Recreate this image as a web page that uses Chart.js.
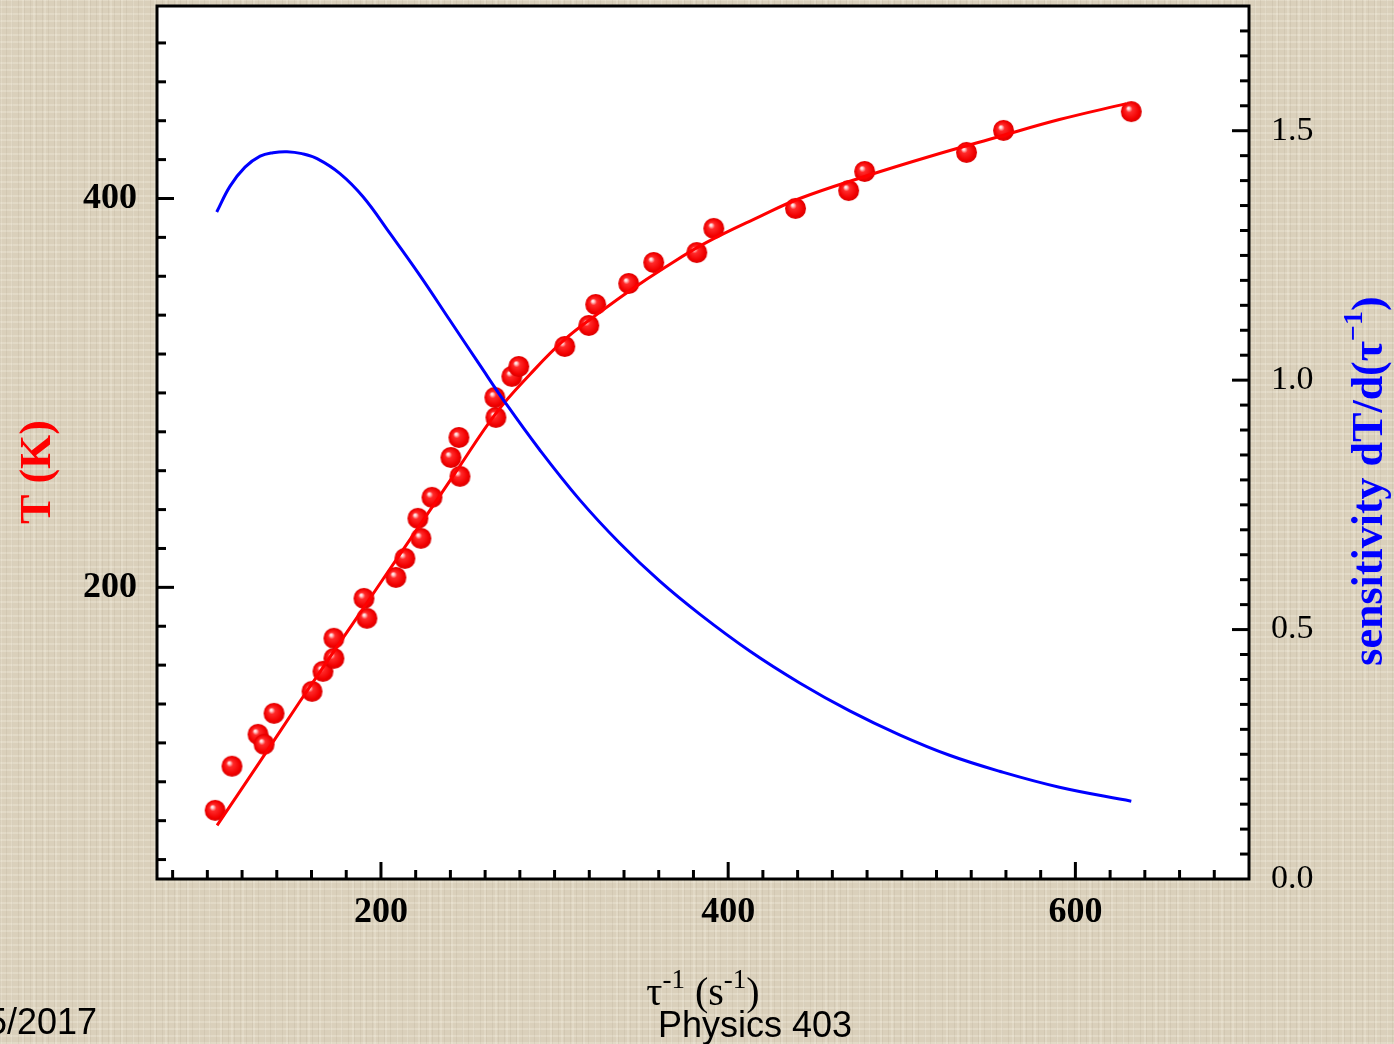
<!DOCTYPE html>
<html>
<head>
<meta charset="utf-8">
<script src="https://cdn.jsdelivr.net/npm/chart.js@4.4.1/dist/chart.umd.min.js"></script>
<style>
  html, body { margin: 0; padding: 0; overflow: hidden; }
  body {
    width: 1394px; height: 1044px; position: relative;
    background-color: #dad0bb;
    background-image:
      repeating-linear-gradient(90deg, rgba(110, 95, 70, 0.08) 0 1px, transparent 1px 6px),
      repeating-linear-gradient(0deg, rgba(255, 252, 240, 0.22) 0 2px, transparent 2px 7px),
      repeating-linear-gradient(90deg, rgba(255, 252, 240, 0.18) 0 2px, transparent 2px 11px);
    font-family: 'Liberation Sans', Arial, sans-serif;
  }
  #wrap { position: absolute; left: 0; top: 0; width: 1394px; height: 1044px; }
  .foot { position: absolute; font-size: 36px; line-height: 36px; color: #000; white-space: nowrap; }
</style>
</head>
<body>
<div id="wrap"><canvas id="chart"></canvas></div>
<div class="foot" style="right:1297px; top:1004px;">5/2017</div>
<div class="foot" style="left:658px; top:1007px;">Physics 403</div>
<script>
// measured points: inverse lifetime (1/s) vs temperature (K)
const tauPts = [104.5, 114.2, 129.2, 132.7, 138.4, 160.3, 166.6, 172.9, 172.9, 190.2, 191.9,
  208.6, 213.8, 221.3, 223.0, 229.4, 240.3, 244.9, 245.5, 265.6, 266.2, 275.4, 279.4,
  305.9, 319.7, 323.7, 342.7, 357.1, 381.9, 391.7, 438.8, 469.4, 478.6, 537.3, 558.6, 632.2];
const tempPts = [85.3, 108.0, 124.4, 119.3, 135.2, 146.5, 156.8, 173.8, 163.5, 194.3, 184.1,
  205.1, 214.9, 235.5, 225.2, 246.3, 266.8, 277.1, 257.1, 297.7, 287.4, 308.5, 313.6,
  323.9, 334.7, 345.5, 356.3, 367.1, 372.2, 384.6, 394.9, 404.1, 413.9, 423.7, 435.0, 444.7];

// fitted calibration curve
const fitTau = [105.6, 130.4, 153.4, 176.4, 191.4, 210.9, 228.2, 242.6, 266.2, 285.8, 305.9,
  326.0, 342.7, 363.5, 386.5, 418.1, 441.2, 478.6, 516.0, 556.3, 590.8, 629.4];
const fitTemp = [77.6, 110.5, 141.4, 171.7, 191.3, 217.0, 239.6, 258.6, 289.5, 309.5, 327.5,
  341.4, 352.2, 364.5, 376.9, 390.7, 400.0, 411.3, 421.6, 431.9, 440.6, 448.8];

// sensitivity dT/d(1/tau)
const sensTau = [105.4, 113.1, 121.7, 130.4, 137.8, 145.9, 154.5, 163.2, 176.4, 189.8,
  205.2, 222.4, 239.7, 257.0, 271.4, 291.5, 314.5, 337.6, 360.6, 383.6, 412.4, 441.2,
  470.0, 498.7, 527.5, 556.3, 590.8, 632.2];
const sensVal = [1.337, 1.389, 1.427, 1.449, 1.456, 1.458, 1.454, 1.444, 1.414, 1.367,
  1.294, 1.210, 1.120, 1.030, 0.956, 0.860, 0.760, 0.673, 0.597, 0.531, 0.457, 0.393,
  0.337, 0.289, 0.248, 0.216, 0.184, 0.156];

const xMajor = [200, 400, 600];
const yMajor = [200, 400];
const y2Major = [0, 0.5, 1.0, 1.5];

const SERIF = "'Liberation Serif', 'Times New Roman', serif";
Chart.defaults.font.family = SERIF;

function makeBall(r) {
  const c = document.createElement('canvas');
  const s = r * 2 + 2;
  c.width = c.height = s;
  const g = c.getContext('2d');
  const cx = s / 2, cy = s / 2;
  const grad = g.createRadialGradient(cx - r * 0.3, cy - r * 0.35, 0, cx, cy, r);
  grad.addColorStop(0, '#ffffff');
  grad.addColorStop(0.12, '#ffd0d0');
  grad.addColorStop(0.32, '#ff2a2a');
  grad.addColorStop(0.8, '#f20000');
  grad.addColorStop(1, '#d80000');
  g.fillStyle = grad;
  g.beginPath();
  g.arc(cx, cy, r, 0, Math.PI * 2);
  g.fill();
  return c;
}
const ball = makeBall(10.5);

function tickLine(ctx, x1, y1, x2, y2) {
  ctx.beginPath();
  ctx.moveTo(x1, y1);
  ctx.lineTo(x2, y2);
  ctx.stroke();
}

// text with superscript runs, centred on x
function drawRuns(ctx, runs, x, y) {
  let w = 0;
  runs.forEach(r => { ctx.font = r.font; r.w = ctx.measureText(r.t).width; w += r.w; });
  let cx = x - w / 2;
  runs.forEach(r => { ctx.font = r.font; ctx.fillText(r.t, cx, y + (r.dy || 0)); cx += r.w; });
}

const framePlugin = {
  id: 'frame',
  beforeDraw(chart) {
    const { ctx, chartArea: a } = chart;
    ctx.save();
    ctx.fillStyle = '#ffffff';
    ctx.fillRect(a.left, a.top, a.right - a.left, a.bottom - a.top);
    ctx.restore();
  },
  afterDraw(chart) {
    const { ctx, chartArea: a, scales } = chart;
    ctx.save();
    ctx.strokeStyle = '#000';
    ctx.lineWidth = 3;
    ctx.strokeRect(a.left, a.top, a.right - a.left, a.bottom - a.top);

    // inward ticks
    for (let v = 80; v < 700; v += 20) {
      const px = scales.x.getPixelForValue(v);
      tickLine(ctx, px, a.bottom, px, a.bottom - (xMajor.includes(v) ? 17 : 9));
    }
    for (let v = 60; v < 499; v += 20) {
      const py = scales.y.getPixelForValue(v);
      tickLine(ctx, a.left, py, a.left + (yMajor.includes(v) ? 17 : 9), py);
    }
    for (let i = 1; i < 35; i++) {
      const v = i * 0.05;
      const py = scales.y2.getPixelForValue(v);
      const major = i % 10 === 0;
      tickLine(ctx, a.right, py, a.right - (major ? 17 : 9), py);
    }

    // axis titles
    ctx.textAlign = 'left';
    ctx.textBaseline = 'alphabetic';
    ctx.fillStyle = '#000';
    drawRuns(ctx, [
      { t: 'τ', font: '40px ' + SERIF },
      { t: '-1', font: '27px ' + SERIF, dy: -17 },
      { t: ' (s', font: '40px ' + SERIF },
      { t: '-1', font: '27px ' + SERIF, dy: -17 },
      { t: ')', font: '40px ' + SERIF }
    ], 703, 1005);

    ctx.save();
    ctx.translate(50, 472);
    ctx.rotate(-Math.PI / 2);
    ctx.fillStyle = '#ff0000';
    drawRuns(ctx, [{ t: 'T (K)', font: 'bold 44px ' + SERIF }], 0, 0);
    ctx.restore();

    ctx.save();
    ctx.translate(1382, 481);
    ctx.rotate(-Math.PI / 2);
    ctx.fillStyle = '#0000ff';
    drawRuns(ctx, [
      { t: 'sensitivity dT/d(τ', font: 'bold 44px ' + SERIF },
      { t: '−1', font: 'bold 28px ' + SERIF, dy: -20 },
      { t: ')', font: 'bold 44px ' + SERIF }
    ], 0, 0);
    ctx.restore();
    ctx.restore();
  }
};

const toXY = (xs, ys) => xs.map((x, i) => ({ x: x, y: ys[i] }));
const noPad = s => { s.paddingTop = 0; s.paddingBottom = 0; s.paddingLeft = 0; s.paddingRight = 0; };

new Chart(document.getElementById('chart'), {
  type: 'scatter',
  data: {
    datasets: [
      {
        type: 'line',
        label: 'sensitivity',
        data: toXY(sensTau, sensVal),
        yAxisID: 'y2',
        borderColor: '#0000ff',
        borderWidth: 3,
        pointRadius: 0,
        fill: false,
        tension: 0.4
      },
      {
        type: 'line',
        label: 'fit',
        data: toXY(fitTau, fitTemp),
        yAxisID: 'y',
        borderColor: '#ff0000',
        borderWidth: 3,
        pointRadius: 0,
        fill: false,
        tension: 0.4
      },
      {
        label: 'T',
        data: toXY(tauPts, tempPts),
        yAxisID: 'y',
        pointStyle: ball,
        pointRadius: 11
      }
    ]
  },
  options: {
    responsive: true,
    maintainAspectRatio: false,
    animation: false,
    layout: { autoPadding: false, padding: { top: 6, left: 0, right: 0, bottom: 0 } },
    plugins: { legend: { display: false }, tooltip: { enabled: false } },
    scales: {
      x: {
        type: 'linear', min: 71, max: 700,
        grid: { display: false, drawTicks: false },
        border: { display: false },
        ticks: { color: '#000', font: { size: 36, weight: 'bold' }, padding: 12, autoSkip: false, maxRotation: 0 },
        afterBuildTicks: s => { s.ticks = xMajor.map(v => ({ value: v })); },
        afterFit: s => { s.height = 165; noPad(s); }
      },
      y: {
        type: 'linear', position: 'left', min: 50, max: 499,
        grid: { display: false, drawTicks: false },
        border: { display: false },
        ticks: { color: '#000', font: { size: 36, weight: 'bold' }, padding: 20, autoSkip: false },
        afterBuildTicks: s => { s.ticks = yMajor.map(v => ({ value: v })); },
        afterFit: s => { s.width = 157; noPad(s); }
      },
      y2: {
        type: 'linear', position: 'right', min: 0, max: 1.75,
        grid: { display: false, drawTicks: false },
        border: { display: false },
        ticks: { color: '#000', font: { size: 34 }, padding: 22, autoSkip: false, callback: v => v.toFixed(1) },
        afterBuildTicks: s => { s.ticks = y2Major.map(v => ({ value: v })); },
        afterFit: s => { s.width = 145; noPad(s); }
      }
    }
  },
  plugins: [framePlugin]
});
</script>
</body>
</html>
